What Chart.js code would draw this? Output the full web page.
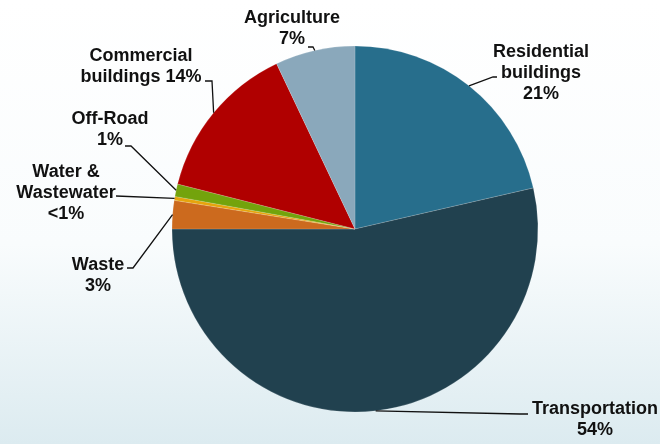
<!DOCTYPE html>
<html lang="en">
<head>
  <meta charset="UTF-8" />
  <title>Emissions by sector</title>
  <script src="https://cdn.jsdelivr.net/npm/chart.js"></script>
  <style>
    html, body {
      margin: 0;
      padding: 0;
      width: 660px;
      height: 444px;
      overflow: hidden;
      background: linear-gradient(to bottom, #ffffff 0%, #f9fcfd 55%, #dcebf0 100%);
    }
    canvas { display: block; }
  </style>
</head>
<body>
  <canvas id="chart" width="660" height="444"></canvas>

  <script>
    // sectors, clockwise from 12 o'clock
    const sectors = ['Residential buildings', 'Transportation', 'Waste', 'Water & Wastewater', 'Off-Road', 'Commercial buildings', 'Agriculture'];
    const shares = [21.4, 53.6, 2.5, 0.35, 1.1, 14.0, 7.05];
    const colors = ['#276e8c', '#21414f', '#cc6a1e', '#e6a40c', '#73a30c', '#b00000', '#8aa8bb'];
    const labelLines = [
      ['Residential', 'buildings', '21%'],
      ['Transportation', '54%'],
      ['Waste', '3%'],
      ['Water &', 'Wastewater', '<1%'],
      ['Off-Road', '1%'],
      ['Commercial', 'buildings 14%'],
      ['Agriculture', '7%']
    ];

    // where each label sits (text centre x, first baseline y) and its leader path
    const labelLayout = [
      { x: 541, y: 57,  path: [[493, 77], [497, 77]] },
      { x: 595, y: 414, path: [[520, 414], [528, 414]] },
      { x: 98,  y: 270, path: [[133, 268], [127, 268]] },
      { x: 66,  y: 177, path: [[116, 196]] },
      { x: 110, y: 124, path: [[131, 146], [125, 146]] },
      { x: 141, y: 61,  path: [[212, 81], [205, 81]] },
      { x: 292, y: 23,  path: [[313, 47], [308, 47]] }
    ];

    const labelPlugin = {
      id: 'sectorLabels',
      afterDatasetsDraw(chart) {
        const ctx = chart.ctx;
        const arcs = chart.getDatasetMeta(0).data;
        ctx.save();
        ctx.strokeStyle = '#111';
        ctx.lineWidth = 1.3;
        arcs.forEach((arc, i) => {
          const p = arc.getProps(['x', 'y', 'startAngle', 'endAngle', 'outerRadius'], true);
          const mid = (p.startAngle + p.endAngle) / 2;
          const sx = p.x + Math.cos(mid) * p.outerRadius;
          const sy = p.y + Math.sin(mid) * p.outerRadius;
          ctx.beginPath();
          ctx.moveTo(sx, sy);
          labelLayout[i].path.forEach(pt => ctx.lineTo(pt[0], pt[1]));
          ctx.stroke();
        });
        ctx.fillStyle = '#111';
        ctx.font = 'bold 18px "Liberation Sans", Arial, sans-serif';
        ctx.textAlign = 'center';
        ctx.textBaseline = 'alphabetic';
        labelLines.forEach((lines, i) => {
          lines.forEach((t, j) => {
            ctx.fillText(t, labelLayout[i].x, labelLayout[i].y + j * 21);
          });
        });
        ctx.restore();
      }
    };

    const ctx = document.getElementById('chart').getContext('2d');
    new Chart(ctx, {
      type: 'pie',
      data: {
        labels: sectors,
        datasets: [{
          data: shares,
          backgroundColor: colors,
          borderColor: 'rgba(255,255,255,0.25)',
          borderWidth: 0.6,
          hoverOffset: 0,
          radius: 183
        }]
      },
      options: {
        responsive: false,
        animation: false,
        layout: { padding: { top: 46, bottom: 32, left: 172, right: 122 } },
        plugins: {
          legend: { display: false },
          tooltip: { enabled: false }
        }
      },
      plugins: [labelPlugin]
    });
  </script>
</body>
</html>
